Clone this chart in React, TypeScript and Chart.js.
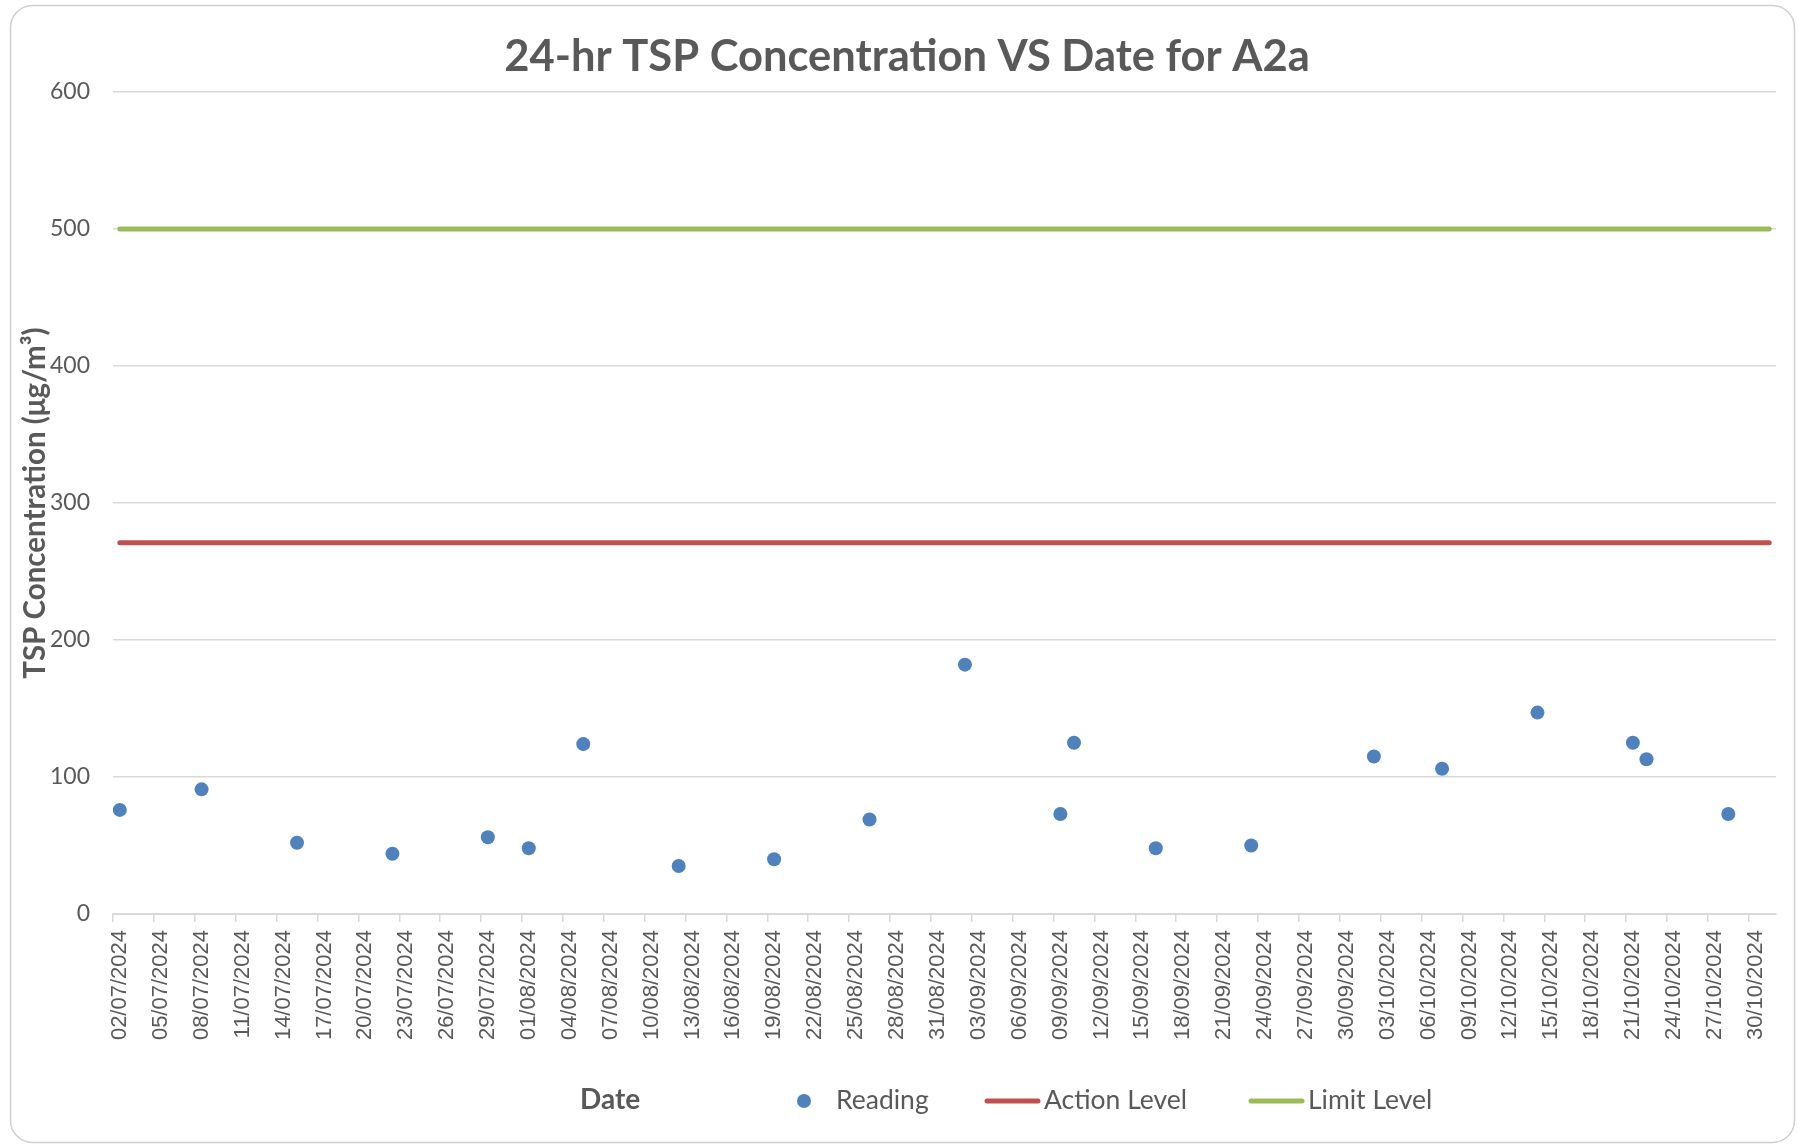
import React, { useEffect, useRef } from "react";
import { Chart, registerables } from "chart.js";

Chart.register(...registerables);

// ---- data ----
const READING_DATES = [
  "02/07/2024", "08/07/2024", "15/07/2024", "22/07/2024", "29/07/2024",
  "01/08/2024", "05/08/2024", "12/08/2024", "19/08/2024", "26/08/2024",
  "02/09/2024", "09/09/2024", "10/09/2024", "16/09/2024", "23/09/2024",
  "02/10/2024", "07/10/2024", "14/10/2024", "21/10/2024", "22/10/2024",
  "28/10/2024",
];
const READING_VALUES = [
  76, 91, 52, 44, 56,
  48, 124, 35, 40, 69,
  182, 73, 125, 48, 50,
  115, 106, 147, 125, 113,
  73,
];
const LEVEL_DATES = ["02/07/2024", "31/10/2024"];
const ACTION_LEVEL = [271, 271];
const LIMIT_LEVEL = [500, 500];

const X_TICK_LABELS = [
  "02/07/2024", "05/07/2024", "08/07/2024", "11/07/2024", "14/07/2024",
  "17/07/2024", "20/07/2024", "23/07/2024", "26/07/2024", "29/07/2024",
  "01/08/2024", "04/08/2024", "07/08/2024", "10/08/2024", "13/08/2024",
  "16/08/2024", "19/08/2024", "22/08/2024", "25/08/2024", "28/08/2024",
  "31/08/2024", "03/09/2024", "06/09/2024", "09/09/2024", "12/09/2024",
  "15/09/2024", "18/09/2024", "21/09/2024", "24/09/2024", "27/09/2024",
  "30/09/2024", "03/10/2024", "06/10/2024", "09/10/2024", "12/10/2024",
  "15/10/2024", "18/10/2024", "21/10/2024", "24/10/2024", "27/10/2024",
  "30/10/2024",
];
const X_AXIS_START = "02/07/2024";
const X_AXIS_END = "01/11/2024";
const Y_MIN = 0;
const Y_MAX = 600;
const Y_STEP = 100;

const TITLE = "24-hr TSP Concentration VS Date for A2a";
const Y_TITLE = "TSP Concentration (μg/m³)";
const X_TITLE = "Date";
const SERIES_NAMES = ["Reading", "Action Level", "Limit Level"];

// ---- helpers ----
const toDay = (s: string) => {
  const [d, m, y] = s.split("/").map(Number);
  const [d0, m0, y0] = X_AXIS_START.split("/").map(Number);
  return (Date.UTC(y, m - 1, d) - Date.UTC(y0, m0 - 1, d0)) / 86400000;
};
// Excel date axis places each value in the middle of its day
const DAY_CENTER = 0.5;

const TEXT = "#595959";
const GRID = "#d9d9d9";
const BLUE = "#4F81BD";
const RED = "#C0504D";
const GREEN = "#9BBB59";
const FONT = "Lato";

const decorPlugin = {
  id: "decor",
  beforeDraw(chart: any) {
    const ctx = chart.ctx as CanvasRenderingContext2D;
    ctx.save();
    ctx.fillStyle = "#ffffff";
    ctx.fillRect(0, 0, chart.width, chart.height);
    ctx.strokeStyle = "#cfcfcf";
    ctx.lineWidth = 1.5;
    ctx.beginPath();
    (ctx as any).roundRect(10.5, 5.5, chart.width - 14, chart.height - 9, 22);
    ctx.stroke();
    ctx.restore();
  },
  afterDraw(chart: any) {
    const ctx = chart.ctx as CanvasRenderingContext2D;
    ctx.save();
    ctx.fillStyle = TEXT;
    ctx.textBaseline = "alphabetic";
    // title
    ctx.font = `bold 43.5px ${FONT}`;
    ctx.textAlign = "center";
    ctx.fillText(TITLE, 907, 71);
    // x axis title
    ctx.textAlign = "left";
    ctx.font = `bold 28px ${FONT}`;
    ctx.fillText(X_TITLE, 580, 1109);
    // legend
    const ly = 1101;
    ctx.font = `26.5px ${FONT}`;
    ctx.fillStyle = BLUE;
    ctx.beginPath();
    ctx.arc(804, ly, 7, 0, Math.PI * 2);
    ctx.fill();
    ctx.fillStyle = TEXT;
    ctx.fillText(SERIES_NAMES[0], 836, 1109);
    ctx.lineCap = "round";
    ctx.lineWidth = 5;
    ctx.strokeStyle = RED;
    ctx.beginPath();
    ctx.moveTo(987, ly);
    ctx.lineTo(1038, ly);
    ctx.stroke();
    ctx.fillText(SERIES_NAMES[1], 1044, 1109);
    ctx.strokeStyle = GREEN;
    ctx.beginPath();
    ctx.moveTo(1251, ly);
    ctx.lineTo(1302, ly);
    ctx.stroke();
    ctx.fillText(SERIES_NAMES[2], 1308, 1109);
    ctx.restore();
  },
};

export default function App() {
  const ref = useRef<HTMLCanvasElement | null>(null);

  useEffect(() => {
    document.body.style.margin = "0";
    const canvas = ref.current;
    if (!canvas) return;

    const readings = READING_DATES.map((d, i) => ({ x: toDay(d) + DAY_CENTER, y: READING_VALUES[i] }));
    const action = LEVEL_DATES.map((d, i) => ({ x: toDay(d) + DAY_CENTER, y: ACTION_LEVEL[i] }));
    const limit = LEVEL_DATES.map((d, i) => ({ x: toDay(d) + DAY_CENTER, y: LIMIT_LEVEL[i] }));

    const chart = new Chart(canvas, {
      type: "scatter",
      data: {
        datasets: [
          {
            label: SERIES_NAMES[0],
            data: readings,
            showLine: false,
            pointRadius: 7,
            pointBorderWidth: 0,
            backgroundColor: BLUE,
            borderColor: BLUE,
          },
          {
            label: SERIES_NAMES[1],
            data: action,
            showLine: true,
            borderColor: RED,
            backgroundColor: RED,
            borderWidth: 5,
            borderCapStyle: "round",
            pointRadius: 0,
          },
          {
            label: SERIES_NAMES[2],
            data: limit,
            showLine: true,
            borderColor: GREEN,
            backgroundColor: GREEN,
            borderWidth: 5,
            borderCapStyle: "round",
            pointRadius: 0,
          },
        ],
      },
      options: {
        animation: false,
        responsive: false,
        devicePixelRatio: 1,
        layout: { padding: { top: 92, right: 22, left: 0, bottom: 0 } },
        plugins: {
          legend: { display: false },
          tooltip: { enabled: false },
          title: { display: false },
        },
        scales: {
          x: {
            type: "linear",
            min: toDay(X_AXIS_START),
            max: toDay(X_AXIS_END),
            afterBuildTicks: (scale: any) => {
              scale.ticks = X_TICK_LABELS.map((l) => ({ value: toDay(l) }));
            },
            afterFit: (scale: any) => {
              scale.height = 232;
            },
            ticks: {
              autoSkip: false,
              maxRotation: 90,
              minRotation: 90,
              padding: 8,
              labelOffset: 7,
              color: TEXT,
              font: { family: "Liberation Sans", size: 22 },
              callback: (_v: any, i: number) => X_TICK_LABELS[i],
            },
            grid: {
              display: true,
              drawOnChartArea: false,
              drawTicks: true,
              tickLength: 8,
              color: GRID,
              lineWidth: 1.5,
            },
            border: { display: true, color: GRID, width: 2 },
          },
          y: {
            type: "linear",
            min: Y_MIN,
            max: Y_MAX,
            afterFit: (scale: any) => {
              scale.width = 113;
            },
            ticks: {
              stepSize: Y_STEP,
              padding: 23,
              color: TEXT,
              font: { family: FONT, size: 23 },
            },
            grid: {
              color: GRID,
              lineWidth: 1.5,
              drawTicks: false,
            },
            border: { display: false },
            title: {
              display: true,
              text: Y_TITLE,
              color: TEXT,
              font: { family: FONT, size: 29.5, weight: "bold" },
              padding: { top: 18, bottom: 0 },
            },
          },
        },
      },
      plugins: [decorPlugin],
    } as any);

    return () => chart.destroy();
  }, []);

  return (
    <canvas
      ref={ref}
      width={1798}
      height={1146}
      style={{ display: "block", width: "1798px", height: "1146px" }}
    />
  );
}
